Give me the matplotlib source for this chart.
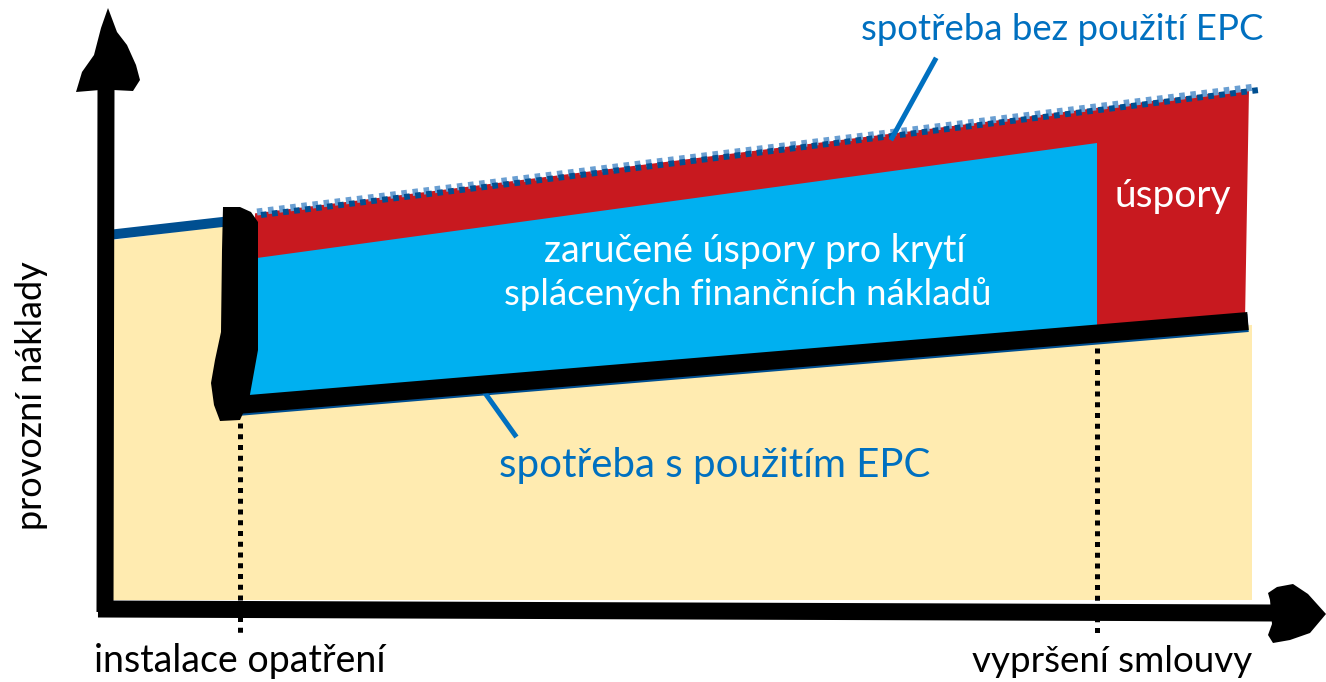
import matplotlib.pyplot as plt
from matplotlib.patches import Polygon

# Schematic EPC chart, drawn in reference pixel units (x right, y down)
W, H = 1326, 682

# timeline
x_start = 110
x_install = 240
x_contract_end = 1097
x_end = 1249

# cost before installation (blue line)
before_x = [108, 240]
before_y = [235, 220]

# consumption without EPC (hatched top line)
without_x = [258, 1256]
without_y = [213, 88]

# consumption with EPC (thick black line)
with_x = [225, 1248]
with_y = [406, 321]

# guaranteed savings (cyan) top edge
guar_x = [257, 1097]
guar_y = [258, 143]

axis_y = 605  # zero cost level

BEIGE = '#ffebb0'
RED = '#c8191f'
CYAN = '#00b0f0'
DARK_BLUE = '#004f91'
MID_BLUE = '#0070c0'
LIGHT_BLUE = '#6a9fd2'

plt.rcParams['font.family'] = ['Lato', 'DejaVu Sans']


def with_at(x):
    return with_y[0] + (with_y[1] - with_y[0]) * (x - with_x[0]) / (with_x[1] - with_x[0])


def without_at(x):
    return without_y[0] + (without_y[1] - without_y[0]) * (x - without_x[0]) / (without_x[1] - without_x[0])


fig = plt.figure(figsize=(W / 100, H / 100), dpi=100)
ax = fig.add_axes([0, 0, 1, 1])
ax.set_xlim(0, W)
ax.set_ylim(H, 0)
ax.axis('off')

px = 0.72  # points per pixel

# beige area under the cost lines
beige = [(113, 240), (230, 225), (230, with_at(230) + 4), (x_end + 3, with_at(x_end) + 4),
         (x_end + 3, axis_y - 5), (113, axis_y - 5)]
ax.add_patch(Polygon(beige, closed=True, fc=BEIGE, ec='none', zorder=1))

# red savings area between the two consumption lines
red = [(255, without_at(255)), (x_end, without_at(x_end)), (x_end - 4, with_at(x_end - 4)),
       (250, with_at(250))]
ax.add_patch(Polygon(red, closed=True, fc=RED, ec='none', zorder=2))

# cyan guaranteed savings
cyan = [(guar_x[0], guar_y[0]), (guar_x[1], guar_y[1]), (x_contract_end, with_at(x_contract_end)),
        (248, with_at(248))]
ax.add_patch(Polygon(cyan, closed=True, fc=CYAN, ec='none', zorder=3))

# line before installation
ax.plot(before_x, before_y, color=DARK_BLUE, lw=10 * px, solid_capstyle='butt', zorder=4)

# hatched line without EPC
ax.plot([v - 1 for v in without_x], [v - 1 for v in without_y], color=LIGHT_BLUE, lw=7 * px,
        ls=(0, (0.8, 0.8)), zorder=4)
ax.plot([v + 3 for v in without_x], [v + 2 for v in without_y], color=DARK_BLUE,
        lw=6 * px, ls=(0, (0.95, 0.9)), zorder=4)

# line with EPC (thin blue under thick black)
ax.plot(with_x, [v + 2 for v in with_y], color=DARK_BLUE, lw=18 * px, solid_capstyle='butt', zorder=4)
ax.plot(with_x, with_y, color='black', lw=18 * px, solid_capstyle='butt', zorder=5)

# thick black step at installation
step = [(223, 207), (240, 207), (251, 212), (258, 222), (258, 350), (249, 400), (240, 420),
        (220, 421), (214, 405), (211, 383), (215, 360), (221, 332), (222, 250)]
ax.add_patch(Polygon(step, closed=True, fc='black', ec='none', zorder=6))

# dotted markers for installation and contract end
ax.plot([x_install, x_install], [423, 636], color='black', lw=5 * px, ls=(0, (1, 1.15)), zorder=6)
ax.plot([x_contract_end, x_contract_end], [348, 637], color='black', lw=5 * px,
        ls=(0, (1, 1.15)), zorder=6)

# axes
ax.plot([105, 106], [612, 88], color='black', lw=17 * px, solid_capstyle='butt', zorder=7)
ax.plot([98, 1275], [609, 613], color='black', lw=17 * px, solid_capstyle='butt', zorder=7)
up_head = [(108, 8), (101, 28), (94, 55), (82, 72), (76, 92), (100, 90), (113, 90),
           (133, 91), (140, 80), (136, 65), (127, 45), (117, 32)]
ax.add_patch(Polygon(up_head, closed=True, fc='black', ec='none', zorder=7))
right_head = [(1268, 593), (1277, 587), (1293, 584), (1308, 594), (1326, 614), (1310, 633),
              (1290, 640), (1273, 643), (1268, 635), (1272, 624), (1270, 600)]
ax.add_patch(Polygon(right_head, closed=True, fc='black', ec='none', zorder=7))

# pointer lines
ax.plot([935, 892], [60, 138], color=MID_BLUE, lw=5 * px, zorder=8)
ax.plot([485, 515], [393, 435], color=MID_BLUE, lw=5 * px, zorder=4.5)

# texts
ax.text(1062, 40, 'spotřeba bez použití EPC', color=MID_BLUE, fontsize=26.4,
        ha='center', va='baseline', zorder=9)
ax.text(715, 477, 'spotřeba s použitím EPC', color=MID_BLUE, fontsize=29,
        ha='center', va='baseline', zorder=9)
ax.text(755, 262, 'zaručené úspory pro krytí', color='white', fontsize=27,
        ha='center', va='baseline', zorder=9)
ax.text(748, 305, 'splácených finančních nákladů', color='white', fontsize=26.4,
        ha='center', va='baseline', zorder=9)
ax.text(1173, 207, 'úspory', color='white', fontsize=28, ha='center', va='baseline', zorder=9)
ax.text(240, 672, 'instalace opatření', color='black', fontsize=27,
        ha='center', va='baseline', zorder=9)
ax.text(1112, 672, 'vypršení smlouvy', color='black', fontsize=26.5,
        ha='center', va='baseline', zorder=9)
ax.text(32, 396, 'provozní náklady', color='black', fontsize=26, rotation=90,
        ha='center', va='center', zorder=9)

fig.savefig('out.png', dpi=100)
